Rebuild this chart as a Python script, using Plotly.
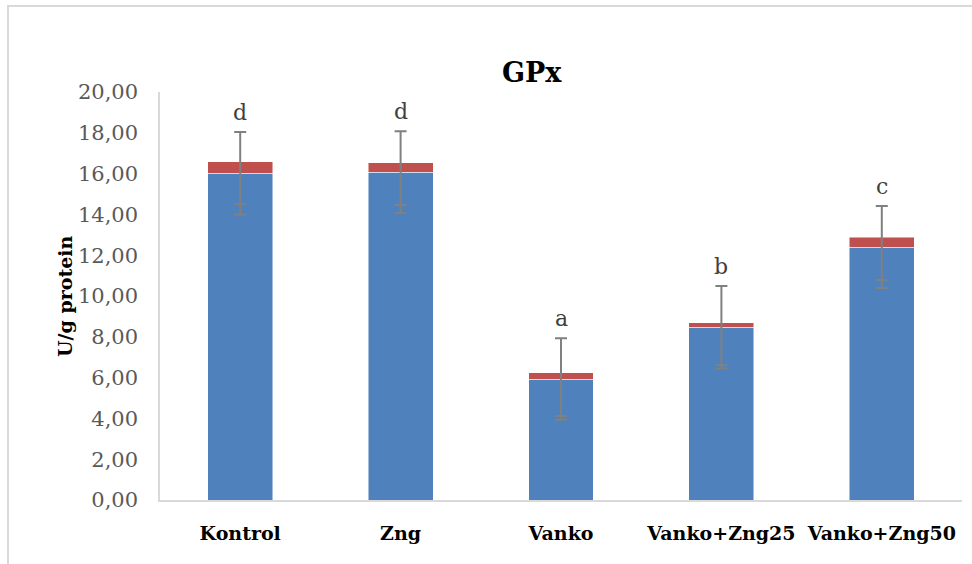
import plotly.graph_objects as go

# GPx activity per group (stacked: mean part + upper part), with SD bars
categories = ["Kontrol", "Zng", "Vanko", "Vanko+Zng25", "Vanko+Zng50"]
base_vals = [16.02, 16.07, 5.93, 8.47, 12.40]
top_vals = [0.55, 0.45, 0.30, 0.21, 0.49]
base_err = [2.02, 2.00, 2.00, 2.02, 2.01]
top_err = [2.07, 2.06, 2.11, 2.06, 2.11]
letters = ["d", "d", "a", "b", "c"]
y_ticks = [0, 2, 4, 6, 8, 10, 12, 14, 16, 18, 20]

BLUE = "#4f81bd"
RED = "#c0504d"
ERR = "#808080"
FONT = "DejaVu Serif"

totals = [b + t for b, t in zip(base_vals, top_vals)]
top_low = [tot - e for tot, e in zip(totals, top_err)]

fig = go.Figure()
fig.add_trace(go.Bar(x=categories, y=base_vals, marker_color=BLUE,
                     marker_line=dict(color="rgba(255,255,255,0.6)", width=0.8),
                     showlegend=False))
fig.add_trace(go.Bar(x=categories, y=top_vals, marker_color=RED,
                     marker_line=dict(color="rgba(255,255,255,0.6)", width=0.8),
                     showlegend=False))

# SD of the lower series, centred on its top
fig.add_trace(go.Scatter(x=categories, y=base_vals, mode="markers",
                         marker=dict(size=1, opacity=0),
                         error_y=dict(type="data", array=base_err, color=ERR,
                                      thickness=2, width=6),
                         showlegend=False, hoverinfo="skip"))
# lower end of the SD of the upper series (its stem lies inside the one above)
fig.add_trace(go.Scatter(x=categories, y=top_low, mode="markers",
                         marker=dict(size=1, opacity=0),
                         error_y=dict(type="data", array=[0] * len(categories),
                                      color=ERR, thickness=2, width=6),
                         showlegend=False, hoverinfo="skip"))

# significance letters above the error bars
for c, b, e, L in zip(categories, base_vals, base_err, letters):
    fig.add_annotation(x=c, y=b + e, text=L, showarrow=False,
                       yanchor="bottom", yshift=5,
                       font=dict(family=FONT, size=22, color="#404040"))

# y-axis title
fig.add_annotation(xref="paper", yref="paper", x=-0.1185, y=0.5,
                   text="<b>U/g protein</b>", textangle=-90, showarrow=False,
                   xanchor="center", yanchor="middle",
                   font=dict(family=FONT, size=19, color="#000000"))

# chart frame
fig.add_shape(type="rect", xref="paper", yref="paper",
              x0=-0.1895, x1=1.03, y0=-0.2, y1=1.2108,
              line=dict(color="#d9d9d9", width=2), fillcolor="rgba(0,0,0,0)")

fig.update_layout(
    width=972, height=564,
    margin=dict(l=160, r=10, t=92, b=64),
    barmode="stack", bargap=0.595,
    paper_bgcolor="white", plot_bgcolor="white",
    title=dict(text="<b>GPx</b>", x=0.547, xref="container", xanchor="center",
               y=0.871, yref="container", yanchor="middle",
               font=dict(family=FONT, size=27, color="#000000")),
    font=dict(family=FONT),
)
fig.update_xaxes(showline=True, linecolor="#d9d9d9", linewidth=1.5,
                 showgrid=False, ticks="", ticklabelstandoff=15,
                 tickfont=dict(family=FONT, size=19, color="#000000"),
                 tickprefix="<b>", ticksuffix="</b>")
fig.update_yaxes(range=[0, 20], tickvals=y_ticks,
                 ticktext=[f"{v:.2f}".replace(".", ",") for v in y_ticks],
                 showline=True, linecolor="#d9d9d9", linewidth=1.5,
                 showgrid=False, zeroline=False, ticks="", ticklabelstandoff=16,
                 tickfont=dict(family=FONT, size=21, color="#595959"))

fig.write_html("out.html")
